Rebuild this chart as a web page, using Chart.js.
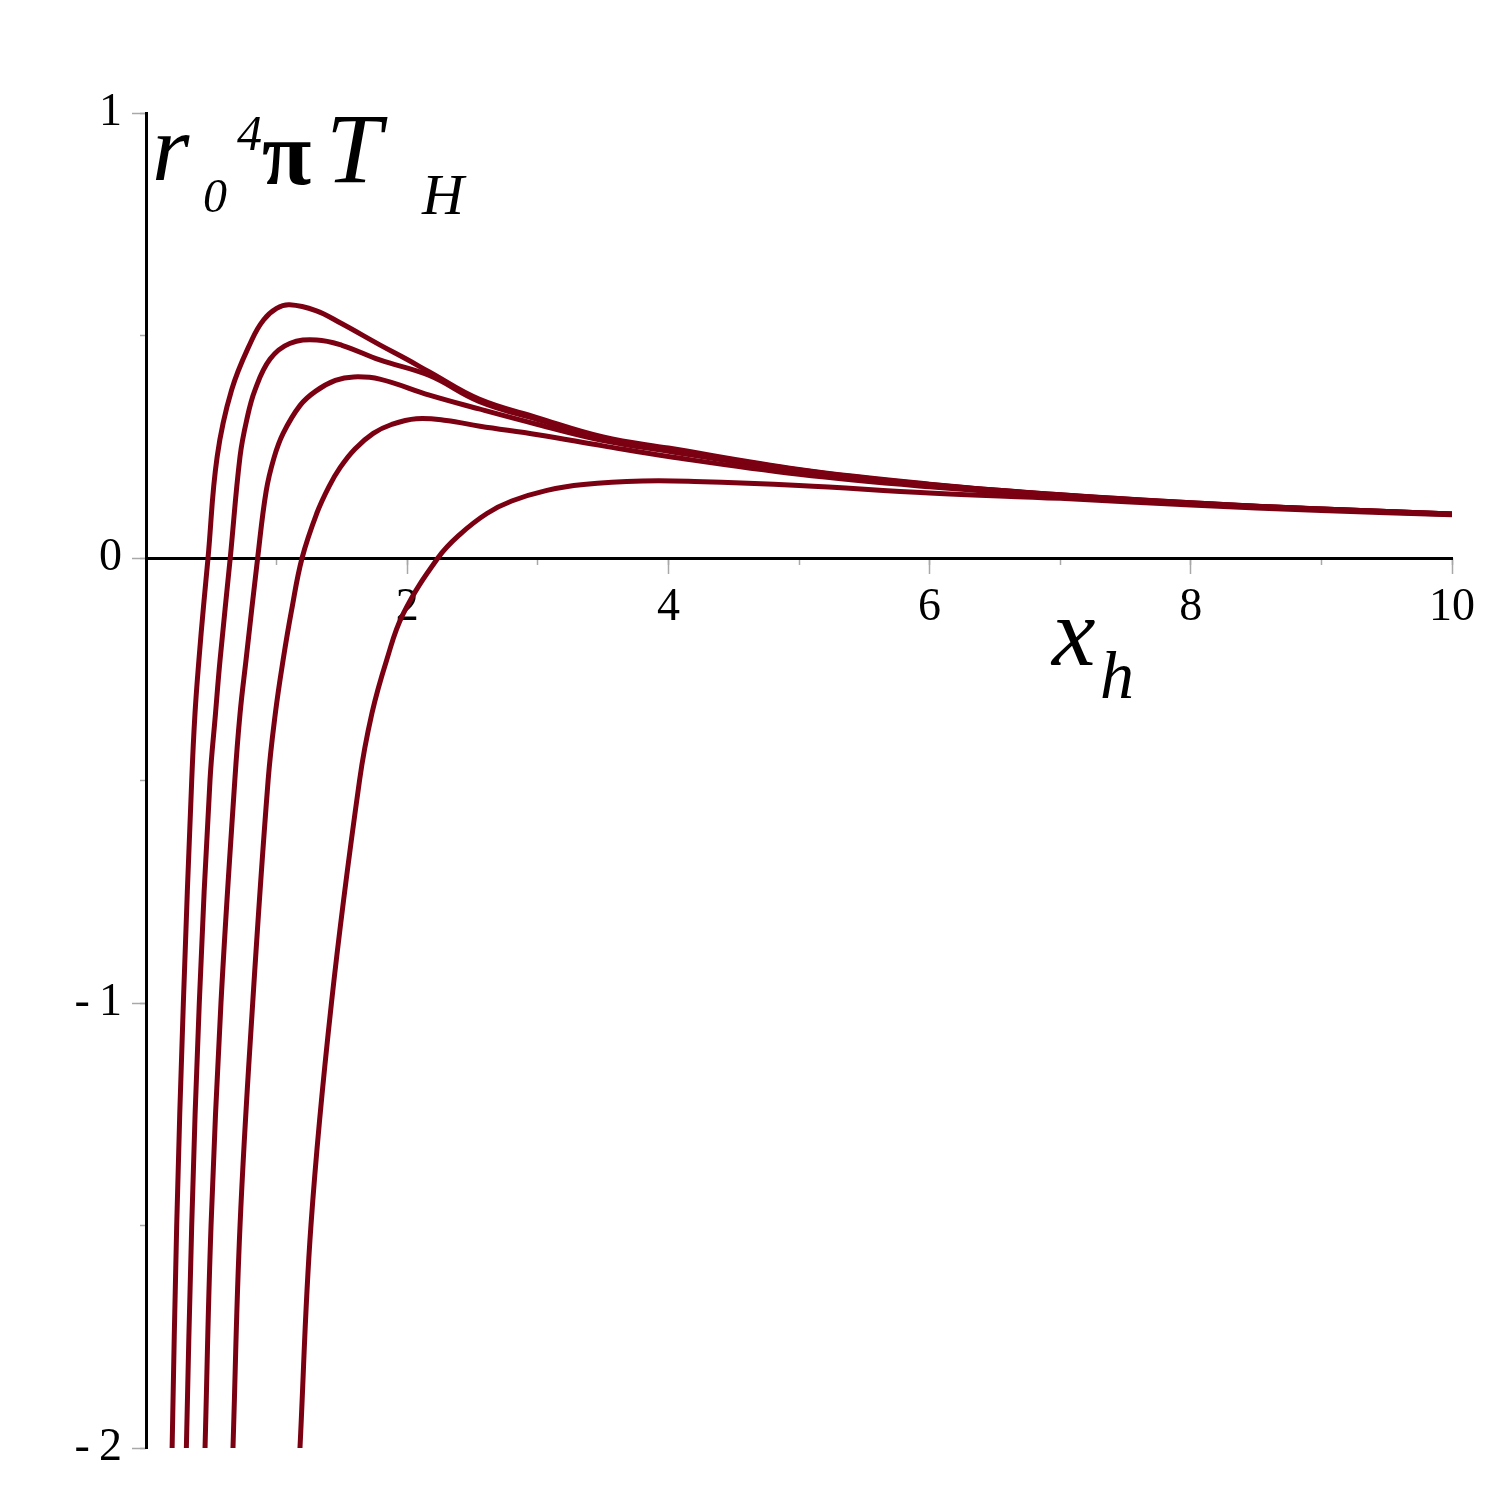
<!doctype html>
<html lang="en">
<head>
<meta charset="utf-8" />
<title>r0^4 pi T_H vs x_h</title>
<script src="https://cdn.jsdelivr.net/npm/chart.js@4.4.4/dist/chart.umd.min.js"></script>
<style>
  html, body { margin: 0; padding: 0; background: #fff; }
  canvas { display: block; }
</style>
</head>
<body>
<canvas id="c" width="1500" height="1500"></canvas>
<script>
// values, one pair of arrays per curve (left to right)
const c1X = [0.200, 0.235, 0.286, 0.350, 0.375, 0.405, 0.440, 0.475, 0.545, 0.656, 0.810, 0.900, 1.000, 1.100, 1.300, 1.490, 1.790, 2.000, 2.170, 2.550, 3.000, 3.500, 4.000, 5.000, 6.000, 7.000, 8.000, 9.000, 10.000];
const c1Y = [-2.0, -1.5, -1.0, -0.5, -0.35, -0.23, -0.11, 0.0, 0.228, 0.378, 0.490, 0.535, 0.561, 0.569, 0.556, 0.528, 0.479, 0.446, 0.418, 0.357, 0.315, 0.272, 0.247, 0.199, 0.166, 0.142, 0.124, 0.110, 0.099];

const c2X = [0.309, 0.350, 0.408, 0.490, 0.532, 0.567, 0.645, 0.720, 0.771, 0.835, 0.950, 1.100, 1.307, 1.500, 1.790, 2.170, 2.550, 3.000, 3.500, 4.000, 5.000, 6.000, 7.000, 8.000, 9.000, 10.000];
const c2Y = [-2.0, -1.5, -1.0, -0.5, -0.35, -0.229, 0.0, 0.228, 0.310, 0.378, 0.447, 0.482, 0.490, 0.478, 0.445, 0.410, 0.352, 0.311, 0.270, 0.245, 0.198, 0.165, 0.142, 0.124, 0.110, 0.099];

const c3X = [0.452, 0.498, 0.574, 0.680, 0.720, 0.766, 0.855, 0.920, 0.980, 1.050, 1.180, 1.300, 1.450, 1.590, 1.790, 2.170, 2.550, 3.000, 3.500, 4.000, 5.000, 6.000, 7.000, 8.000, 9.000, 10.000];
const c3Y = [-2.0, -1.5, -1.0, -0.5, -0.35, -0.229, 0.0, 0.150, 0.225, 0.280, 0.343, 0.375, 0.399, 0.407, 0.402, 0.366, 0.335, 0.300, 0.264, 0.240, 0.195, 0.164, 0.141, 0.123, 0.110, 0.099];

const c4X = [0.666, 0.720, 0.817, 0.935, 0.990, 1.050, 1.115, 1.195, 1.307, 1.400, 1.486, 1.600, 1.740, 1.880, 2.070, 2.300, 2.557, 3.000, 3.500, 4.000, 5.000, 6.000, 7.000, 8.000, 9.000, 10.000];
const c4Y = [-2.0, -1.5, -1.0, -0.5, -0.35, -0.229, -0.117, 0.0, 0.100, 0.160, 0.203, 0.245, 0.280, 0.300, 0.313, 0.309, 0.296, 0.277, 0.252, 0.228, 0.188, 0.160, 0.139, 0.122, 0.109, 0.098];

const c5X = [1.179, 1.263, 1.420, 1.635, 1.730, 1.843, 1.970, 2.235, 2.400, 2.610, 2.800, 3.070, 3.350, 3.800, 4.200, 5.000, 6.000, 7.000, 8.000, 9.000, 10.000];
const c5Y = [-2.0, -1.5, -1.0, -0.5, -0.349, -0.229, -0.125, 0.0, 0.052, 0.100, 0.128, 0.152, 0.165, 0.173, 0.172, 0.163, 0.146, 0.134, 0.119, 0.107, 0.097];

const curves = [[c1X, c1Y], [c2X, c2Y], [c3X, c3Y], [c4X, c4Y], [c5X, c5Y]];

const xMajorTicks = [2, 4, 6, 8, 10];
const yMajorTicks = [-2, -1, 0, 1];

const LINE = "#7a0012";
const TICK_GRAY = "#a8a8a8";
const SERIF = "'Liberation Serif', 'DejaVu Serif', serif";

function yLabel(v) {
  if (!yMajorTicks.includes(v)) return "";
  return v < 0 ? "-\u2009" + Math.abs(v) : String(v);
}

// axis titles drawn as canvas text
const axisTitles = {
  id: "axisTitles",
  afterDraw(chart) {
    const { ctx } = chart;
    ctx.save();
    ctx.fillStyle = "#000";
    ctx.textBaseline = "alphabetic";
    const put = (txt, font, x, y) => { ctx.font = font; ctx.fillText(txt, x, y); };
    // r_0^4 pi T_H
    put("r", "italic 96px " + SERIF, 152, 180);
    put("0", "italic 48px " + SERIF, 203, 212);
    put("4", "italic 50px " + SERIF, 237, 150);
    put("\u03c0", "bold 90px " + SERIF, 262, 184);
    put("T", "italic 100px " + SERIF, 326, 182);
    put("H", "italic 58px " + SERIF, 422, 214);
    // x_h
    put("x", "italic 98px " + SERIF, 1052, 665);
    put("h", "italic 68px " + SERIF, 1100, 698);
    ctx.restore();
  },
};

new Chart(document.getElementById("c"), {
  type: "line",
  data: {
    datasets: curves.map(([xs, ys]) => ({
      data: xs.map((x, i) => ({ x, y: ys[i] })),
      borderColor: LINE,
      borderWidth: 5,
      pointRadius: 0,
      fill: false,
      tension: 0.4,
    })),
  },
  options: {
    responsive: false,
    animation: false,
    parsing: false,
    layout: { padding: { top: 113, right: 48, bottom: 52, left: 0 } },
    plugins: { legend: { display: false }, tooltip: { enabled: false } },
    scales: {
      x: {
        type: "linear",
        position: { y: 0 },
        min: 0,
        max: 10,
        ticks: {
          stepSize: 2,
          autoSkip: false,
          maxRotation: 0,
          padding: 8,
          color: "#000",
          font: { family: SERIF, size: 46 },
          callback: (v) => (xMajorTicks.includes(v) ? String(v) : ""),
        },
        grid: { drawOnChartArea: false, tickLength: 14, tickColor: TICK_GRAY, tickWidth: 1.5 },
        border: { display: true, color: "#000", width: 3 },
      },
      xMinor: {
        type: "linear",
        position: { y: 0 },
        min: 0,
        max: 10,
        ticks: { stepSize: 1, display: false },
        grid: { drawOnChartArea: false, tickLength: 7, tickColor: TICK_GRAY, tickWidth: 1.5 },
        border: { display: false },
      },
      y: {
        type: "linear",
        position: "left",
        min: -2,
        max: 1,
        afterFit: (s) => { s.width = 146; },
        ticks: {
          stepSize: 1,
          padding: 10,
          color: "#000",
          font: { family: SERIF, size: 46 },
          callback: yLabel,
        },
        grid: { drawOnChartArea: false, tickLength: 14, tickColor: TICK_GRAY, tickWidth: 1.5 },
        border: { display: true, color: "#000", width: 3 },
      },
      yMinor: {
        type: "linear",
        position: { x: 0 },
        min: -2,
        max: 1,
        ticks: { stepSize: 0.5, display: false },
        grid: { drawOnChartArea: false, tickLength: 6, tickColor: TICK_GRAY, tickWidth: 1.5 },
        border: { display: false },
      },
    },
  },
  plugins: [axisTitles],
});
</script>
</body>
</html>
